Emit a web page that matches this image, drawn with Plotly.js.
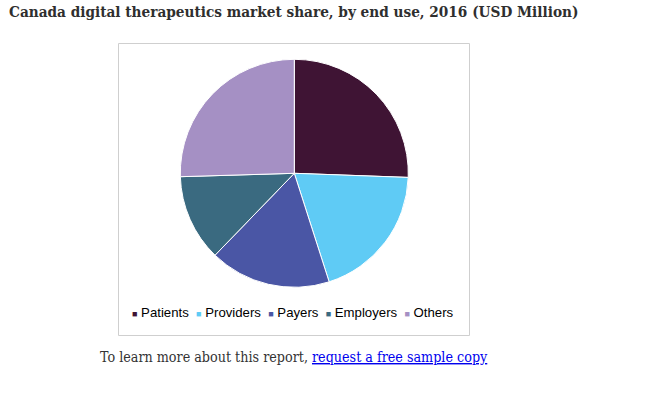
<!DOCTYPE html>
<html>
<head>
<meta charset="utf-8">
<script src="https://cdn.plot.ly/plotly-3.0.1.min.js"></script>
<style>html,body{margin:0;padding:0;background:#fff;}#chart{width:649px;height:397px;}</style>
</head>
<body>
<div id="chart"></div>
<script>
const categories = ["Patients", "Providers", "Payers", "Employers", "Others"];
const shares = [25.6, 19.5, 17.2, 12.3, 25.5];
const colors = ["#3F1434", "#5FCBF5", "#4A56A5", "#3A6A80", "#A590C4"];

const W = 649, H = 397;
const px = x => x / W;
const py = y => 1 - y / H;

const legendText = categories.map((c, i) =>
  '<span style="color:' + colors[i] + ';font-size:9px">■</span>&nbsp;' + c
).join('&nbsp;&nbsp;');

const trace = {
  type: 'pie',
  labels: categories,
  values: shares,
  sort: false,
  direction: 'clockwise',
  rotation: 0,
  textinfo: 'none',
  hoverinfo: 'label+percent',
  marker: { colors: colors, line: { color: '#ffffff', width: 1 } },
  domain: { x: [px(294.3 - 114), px(294.3 + 114)], y: [py(173.3 + 114), py(173.3 - 114)] },
  showlegend: false
};

const layout = {
  width: W, height: H,
  margin: { l: 0, r: 0, t: 0, b: 0 },
  paper_bgcolor: '#ffffff',
  showlegend: false,
  title: {
    text: '<b>Canada digital therapeutics market share, by end use, 2016 (USD Million)</b>',
    x: px(9), xanchor: 'left', xref: 'paper',
    y: py(12), yanchor: 'middle', yref: 'container',
    font: { family: 'DejaVu Serif Condensed, DejaVu Serif, serif', size: 15.2, color: '#2f2f2f' }
  },
  shapes: [{
    type: 'rect', xref: 'paper', yref: 'paper',
    x0: px(118.5), x1: px(469.5), y0: py(335.5), y1: py(43.5),
    line: { color: '#cfcfcf', width: 1 }, fillcolor: 'rgba(0,0,0,0)', layer: 'below'
  }],
  annotations: [
    {
      text: legendText, xref: 'paper', yref: 'paper',
      x: px(292.5), y: py(312), xanchor: 'center', yanchor: 'middle', showarrow: false,
      font: { family: 'Liberation Sans, Arial, sans-serif', size: 13.2, color: '#000000' }
    },
    {
      text: 'To learn more about this report, <a href="#" style="color:#0000ee;text-decoration:underline">request a free sample copy</a>',
      xref: 'paper', yref: 'paper',
      x: px(98), y: py(357), xanchor: 'left', yanchor: 'middle', showarrow: false,
      font: { family: 'DejaVu Serif Condensed, DejaVu Serif, serif', size: 14.2, color: '#333333' }
    }
  ]
};

Plotly.newPlot('chart', [trace], layout, { displayModeBar: false });
</script>
</body>
</html>
